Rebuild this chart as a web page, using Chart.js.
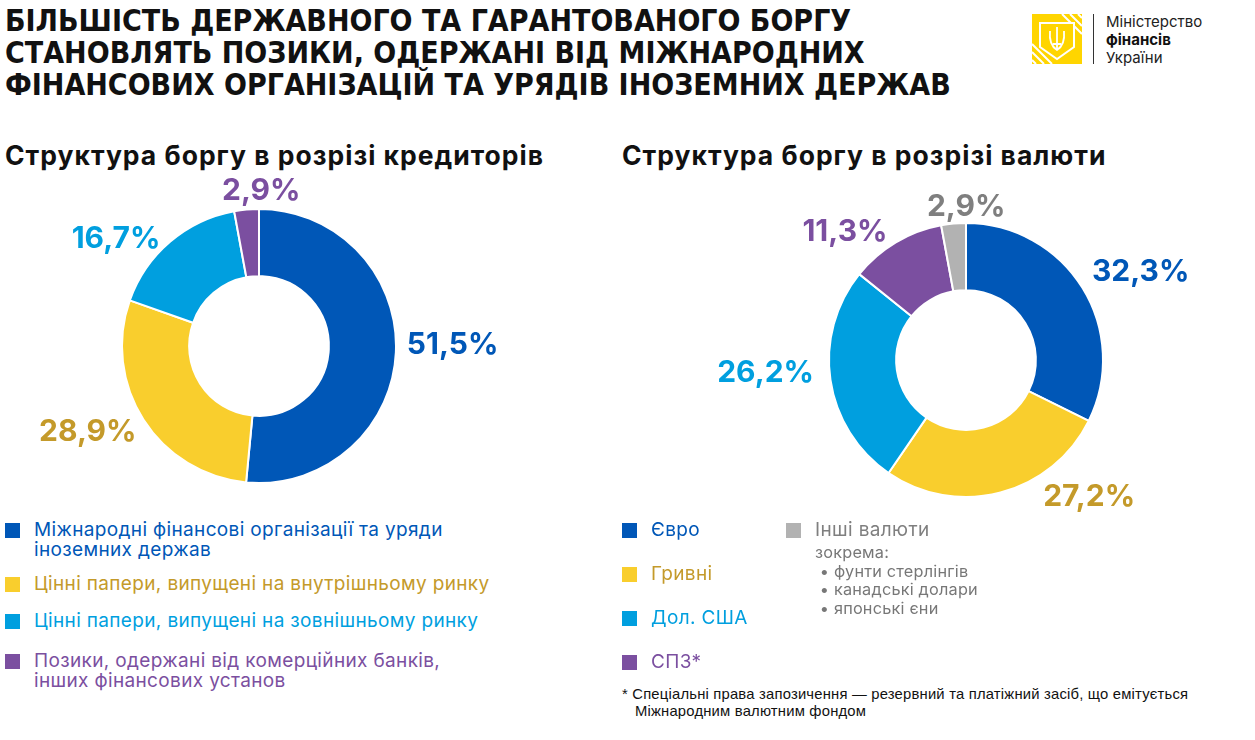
<!DOCTYPE html>
<html lang="uk">
<head>
<meta charset="UTF-8">
<title>Структура державного та гарантованого боргу</title>
<script src="https://cdn.jsdelivr.net/npm/chart.js"></script>
<style>
  body { margin: 0; width: 1255px; height: 740px; background: #fff; position: relative; overflow: hidden; font-family: Inter, "Noto Sans", sans-serif; }
  .titulo { position: absolute; left: 5px; top: 5px; font-family: "Liberation Sans Narrow", "DejaVu Sans Condensed", sans-serif; font-weight: 700; font-size: 30px; line-height: 32px; color: #111; }
  .sub { position: absolute; top: 139px; font-weight: 700; font-size: 26.5px; letter-spacing: 1px; color: #111; }
  .logo { position: absolute; left: 1032px; top: 14px; width: 50px; height: 50px; }
  .logo-line { position: absolute; left: 1093px; top: 14px; width: 1px; height: 50px; background: #333; }
  .logo-text { position: absolute; left: 1106px; top: 13px; font-size: 15px; line-height: 18px; color: #222; }
  .logo-text b { font-weight: 700; color: #111; }
  canvas { position: absolute; }
  .leg { position: absolute; font-size: 19px; letter-spacing: 0.35px; line-height: 20px; }
  .leg .item { position: relative; padding-left: 29px; }
  .leg .sq { position: absolute; left: 0; top: 3px; width: 15px; height: 15px; }
  .sub2 { font-size: 16.3px; letter-spacing: 0.2px; line-height: 18.5px; color: #777; }
  .nota { position: absolute; left: 622px; top: 686px; font-family: "Liberation Sans", Arial, sans-serif; font-size: 14.8px; letter-spacing: 0.2px; line-height: 17px; color: #111; }
</style>
</head>
<body>
<div class="titulo">БІЛЬШІСТЬ ДЕРЖАВНОГО ТА ГАРАНТОВАНОГО БОРГУ<br>СТАНОВЛЯТЬ ПОЗИКИ, ОДЕРЖАНІ ВІД МІЖНАРОДНИХ<br>ФІНАНСОВИХ ОРГАНІЗАЦІЙ ТА УРЯДІВ ІНОЗЕМНИХ ДЕРЖАВ</div>

<svg class="logo" viewBox="0 0 50 50">
  <rect width="50" height="50" fill="#FFD500"/>
  <path d="M30 0 L50 20 M38 0 L50 12 M46 0 L50 4 M0 30 L20 50 M0 38 L12 50 M0 46 L4 50" stroke="#fff" stroke-width="2"/>
  <path d="M8 9 H42 V33 L25 45 L8 33 Z" fill="#FFD500" stroke="#fff" stroke-width="2"/>
  <path d="M25 13 V36 M18 17 C17 28 20 33 25 36 C30 33 33 28 32 17 M21 30 H29" stroke="#fff" stroke-width="1.8" fill="none"/>
</svg>
<div class="logo-line"></div>
<div class="logo-text">Міністерство<br><b>фінансів</b><br>України</div>

<div class="sub" style="left:5px">Структура боргу в розрізі кредиторів</div>
<div class="sub" style="left:622px">Структура боргу в розрізі валюти</div>

<canvas id="graficoCredores"></canvas>
<canvas id="graficoMoedas"></canvas>

<div class="leg" id="legCredores" style="left:5px; top:520px; width:560px"></div>
<div class="leg" id="legMoedas" style="left:622px; top:520px; width:160px"></div>
<div class="leg" id="legOutras" style="left:786px; top:520px; width:240px"></div>

<div class="nota">* Спеціальні права запозичення — резервний та платіжний засіб, що емітується<br>&nbsp;&nbsp;&nbsp;Міжнародним валютним фондом</div>

<script>
  // дані
  const credorLabels = [
    ['Міжнародні фінансові організації та уряди', 'іноземних держав'],
    ['Цінні папери, випущені на внутрішньому ринку'],
    ['Цінні папери, випущені на зовнішньому ринку'],
    ['Позики, одержані від комерційних банків,', 'інших фінансових установ']
  ];
  const credorShares = [51.5, 28.9, 16.7, 2.9];

  const moedaLabels = ['Євро', 'Гривні', 'Дол. США', 'СПЗ*', 'Інші валюти'];
  const moedaShares = [32.3, 27.2, 26.2, 11.3, 2.9];
  const outrasMoedas = ['фунти стерлінгів', 'канадські долари', 'японські єни'];

  const cores = {
    azul: '#0057B7', amarelo: '#F9CE2D', celeste: '#009FDF', roxo: '#7B4FA0', cinza: '#B2B2B2'
  };
  const coresTexto = {
    azul: '#0057B7', amarelo: '#C49A2A', celeste: '#009FDF', roxo: '#7B4FA0', cinza: '#7F7F7F'
  };

  const fmt = v => v.toFixed(1).replace('.', ',') + '%';

  // підписи відсотків навколо кільця
  const rotulos = {
    id: 'rotulos',
    afterDatasetsDraw(chart, args, opts) {
      const ctx = chart.ctx;
      const meta = chart.getDatasetMeta(0);
      const vals = chart.data.datasets[0].data;
      ctx.save();
      ctx.font = '700 30px Inter, "Noto Sans", sans-serif';
      ctx.textAlign = 'center';
      ctx.textBaseline = 'middle';
      meta.data.forEach((arc, i) => {
        const p = arc.getProps(['x', 'y', 'startAngle', 'endAngle', 'outerRadius'], true);
        const mid = (p.startAngle + p.endAngle) / 2;
        const c = Math.cos(mid), s = Math.sin(mid);
        const txt = fmt(vals[i]);
        const w = ctx.measureText(txt).width;
        const r = p.outerRadius + 8;
        const n = (opts.nudge && opts.nudge[i]) || [0, 0];
        const px = p.x + c * r + c * w / 2 + n[0];
        const py = p.y + s * r + s * 11 + n[1];
        ctx.fillStyle = opts.colors[i];
        ctx.fillText(txt, px, py);
      });
      ctx.restore();
    }
  };

  function criarGrafico(el, left, top, labels, data, bg, txt, nudge) {
    el.style.left = left + 'px';
    el.style.top = top + 'px';
    el.style.width = '520px';
    el.style.height = '340px';
    return new Chart(el, {
      type: 'doughnut',
      data: {
        labels: labels,
        datasets: [{
          data: data,
          backgroundColor: bg,
          borderColor: '#fff',
          borderWidth: 2
        }]
      },
      options: {
        responsive: false,
        animation: false,
        cutout: '51%',
        layout: { padding: { top: 32, bottom: 32 } },
        plugins: {
          legend: { display: false },
          tooltip: { enabled: false },
          rotulos: { colors: txt, nudge: nudge }
        }
      },
      plugins: [rotulos]
    });
  }

  const c1 = document.getElementById('graficoCredores');
  c1.width = 520; c1.height = 340;
  criarGrafico(c1, -1, 176, credorLabels, credorShares,
    [cores.azul, cores.amarelo, cores.celeste, cores.roxo],
    [coresTexto.azul, coresTexto.amarelo, coresTexto.celeste, coresTexto.roxo],
    [[3, -8], [-8, 2], [-20, 12], [19, 0]]);

  const c2 = document.getElementById('graficoMoedas');
  c2.width = 520; c2.height = 340;
  criarGrafico(c2, 706, 190, moedaLabels, moedaShares,
    [cores.azul, cores.amarelo, cores.celeste, cores.roxo, cores.cinza],
    [coresTexto.azul, coresTexto.amarelo, coresTexto.celeste, coresTexto.roxo, coresTexto.cinza],
    [[10, -6], [75, -14], [-9, -10], [-25, 6], [17, 2]]);

  // легенди
  const legC = document.getElementById('legCredores');
  const corC = ['azul', 'amarelo', 'celeste', 'roxo'];
  const gapC = [0, 14, 17, 20];
  credorLabels.forEach((l, i) => {
    const d = document.createElement('div');
    d.className = 'item';
    d.style.marginTop = gapC[i] + 'px';
    d.style.color = coresTexto[corC[i]];
    d.innerHTML = '<span class="sq" style="background:' + cores[corC[i]] + '"></span>' + l.join('<br>');
    legC.appendChild(d);
  });

  const legM = document.getElementById('legMoedas');
  const corM = ['azul', 'amarelo', 'celeste', 'roxo'];
  moedaLabels.slice(0, 4).forEach((l, i) => {
    const d = document.createElement('div');
    d.className = 'item';
    d.style.marginTop = (i ? 24 : 0) + 'px';
    d.style.color = coresTexto[corM[i]];
    d.innerHTML = '<span class="sq" style="background:' + cores[corM[i]] + '"></span>' + l;
    legM.appendChild(d);
  });

  const legO = document.getElementById('legOutras');
  legO.innerHTML = '<div class="item" style="color:' + coresTexto.cinza + '"><span class="sq" style="background:' + cores.cinza + '"></span>' + moedaLabels[4] + '</div>' +
    '<div class="sub2" style="padding-left:29px; margin-top:3px">зокрема:<br>' +
    outrasMoedas.map(m => '&nbsp;• ' + m).join('<br>') + '</div>';
</script>
</body>
</html>
